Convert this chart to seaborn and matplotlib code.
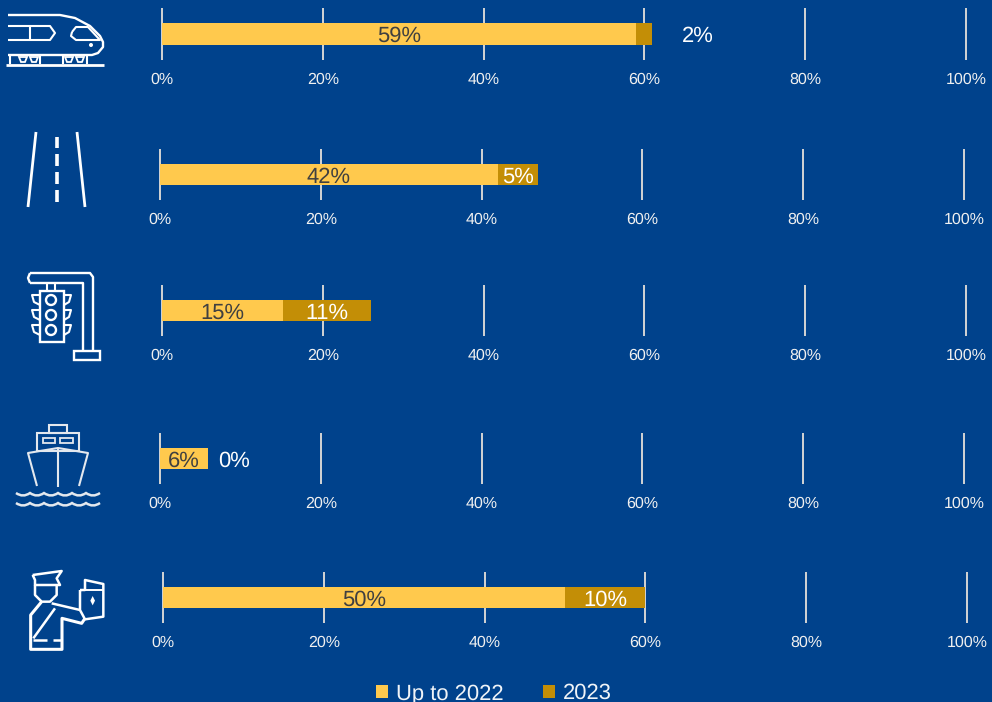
import matplotlib
matplotlib.use("Agg")
import matplotlib.pyplot as plt
from matplotlib.patches import Circle, PathPatch, Polygon, Rectangle
from matplotlib.path import Path
import pandas as pd
import seaborn as sns

# Share of the work done, by transport mode
modes = ["Rail", "Road", "Traffic", "Maritime", "Enforcement"]
up_to_2022 = [59, 42, 15, 6, 50]
in_2023 = [2, 5, 11, 0, 10]
series_names = ["Up to 2022", "2023"]
tick_values = [0, 20, 40, 60, 80, 100]

BG = "#00428C"
GOLD = "#FFC94D"
DARK_GOLD = "#C38E06"
GRID = "#D4D4D4"
TEXT_DARK = "#404040"
WHITE = "#FFFFFF"
FIG_W, FIG_H = 992, 702
PX_PER_UNIT = 8.04
PAD_UNITS = 0.5

# Panel placement in pixels: x of the 0% line, top and bottom of the grid lines
panel_x0 = [162, 160, 162, 160, 163]
panel_top = [8, 149, 285, 433, 572]
panel_bottom = [60, 200, 336, 484, 623]
# Gap between the bar end and a label that sits outside the bar
outside_gap = [29, 0, 0, 10, 0]

sns.set_theme(style="white")
plt.rcParams["font.family"] = ["Liberation Sans", "DejaVu Sans"]
plt.rcParams["text.hinting"] = "no_hinting"
plt.rcParams["text.hinting_factor"] = 1

fig = plt.figure(figsize=(FIG_W / 100, FIG_H / 100), dpi=100, facecolor=BG)


def draw_panel(i):
    x0, top, bottom = panel_x0[i], panel_top[i], panel_bottom[i]
    width = (100 + 2 * PAD_UNITS) * PX_PER_UNIT
    ax = fig.add_axes([
        (x0 - PAD_UNITS * PX_PER_UNIT) / FIG_W,
        1 - bottom / FIG_H,
        width / FIG_W,
        (bottom - top) / FIG_H,
    ])
    ax.set_facecolor("none")
    first, second = up_to_2022[i], in_2023[i]
    frame = pd.DataFrame({"mode": [modes[i]], "first": [first], "total": [first + second]})

    # Stacked look: the total goes underneath, the earlier share on top of it
    sns.barplot(data=frame, x="total", y="mode", color=DARK_GOLD, width=0.404,
                saturation=1, ax=ax, linewidth=0, zorder=2)
    sns.barplot(data=frame, x="first", y="mode", color=GOLD, width=0.404,
                saturation=1, ax=ax, linewidth=0, zorder=3)

    ax.set_xlim(-PAD_UNITS, 100 + PAD_UNITS)
    ax.set_ylim(0.5, -0.5)
    ax.set_xlabel("")
    ax.set_ylabel("")
    ax.set_yticks([])
    ax.set_xticks(tick_values)
    ax.set_xticklabels([f"{v}%" for v in tick_values])
    ax.tick_params(axis="x", length=0, pad=8.6, labelsize=11.2, colors="#F0F0F0")
    ax.set_axisbelow(True)
    ax.grid(axis="x", color=GRID, linewidth=1.4)
    ax.grid(axis="y", visible=False)
    sns.despine(ax=ax, left=True, bottom=True)

    ax.text(first / 2, 0, f"{first}%", ha="center", va="center_baseline",
            fontsize=15.6, color=TEXT_DARK, zorder=5)
    if second >= 3:
        ax.text(first + second / 2, 0, f"{second}%", ha="center", va="center_baseline",
                fontsize=15.6, color=WHITE, zorder=5)
    else:
        ax.annotate(f"{second}%", xy=(first + second, 0), xytext=(outside_gap[i] * 0.72, 0),
                    textcoords="offset points", ha="left", va="center_baseline",
                    fontsize=15.6, color=WHITE, zorder=5)


for index in range(len(modes)):
    draw_panel(index)

# Overlay in pixel coordinates for the mode pictograms
overlay = fig.add_axes([0, 0, 1, 1])
overlay.set_xlim(0, FIG_W)
overlay.set_ylim(FIG_H, 0)
overlay.axis("off")
overlay.patch.set_alpha(0)


def stroke(points, lw=1.5, color=WHITE, closed=False):
    pts = list(points) + ([points[0]] if closed else [])
    xs, ys = zip(*pts)
    overlay.plot(xs, ys, color=color, lw=lw, solid_joinstyle="round",
                 solid_capstyle="butt", clip_on=False)


# Train
stroke([(8, 15), (60, 15), (75, 18), (90, 26), (100, 36), (103, 42), (103, 47), (98, 53), (92, 55), (8, 55)], lw=1.7)
stroke([(8, 26), (50, 26), (55, 33), (50, 40), (8, 40)])
stroke([(30, 26), (30, 40)])
stroke([(72, 32), (76, 27), (88, 27), (100, 40), (76, 40), (71, 36)], closed=True)
overlay.add_patch(Circle((91, 45), 2, color=WHITE, lw=0))
stroke([(6, 65), (104, 65)], lw=2)
for x in (10, 40, 63, 87):
    stroke([(x, 56), (x, 64)])
for x in (23, 34, 69, 80):
    overlay.add_patch(Polygon([(x - 4, 57), (x + 4, 57), (x + 2, 62), (x - 2, 62)],
                              closed=True, fc="none", ec=WHITE, lw=1.3))
# Road
stroke([(36, 132), (28, 207)], lw=2)
stroke([(77, 132), (85, 207)], lw=2)
for y0, y1 in ((137, 148), (154, 166), (172, 184), (190, 202)):
    stroke([(57, y0), (57, y1)], lw=2.6)
# Traffic light
stroke([(30, 273), (90, 273), (93, 277), (93, 350)], lw=1.7)
stroke([(30, 283), (83, 283), (83, 350)], lw=1.7)
stroke([(30, 273), (28, 278), (30, 283)], lw=1.7)
overlay.add_patch(Rectangle((74, 351), 26, 9, fc="none", ec=WHITE, lw=1.7))
overlay.add_patch(Rectangle((40, 291), 24, 51, fc="none", ec=WHITE, lw=1.7))
stroke([(47, 283), (47, 291)])
stroke([(55, 283), (55, 291)])
for y in (300, 315, 330):
    overlay.add_patch(Circle((51, y), 5, fc="none", ec=WHITE, lw=1.7))
    stroke([(40, y - 5), (32, y - 5), (34, y + 2), (40, y + 5)])
    stroke([(64, y - 5), (71, y - 5), (69, y + 2), (64, y + 5)])
# Ship
SHIP = "#E4E8EE"
overlay.add_patch(Rectangle((49, 425), 18, 8, fc="none", ec=SHIP, lw=1.5))
overlay.add_patch(Rectangle((37, 433), 42, 18, fc="none", ec=SHIP, lw=1.5))
overlay.add_patch(Rectangle((43, 438), 12, 5, fc="none", ec=SHIP, lw=1.3))
overlay.add_patch(Rectangle((60, 438), 13, 5, fc="none", ec=SHIP, lw=1.3))
stroke([(37, 486), (28, 453), (58, 448), (88, 453), (79, 486)], color=SHIP)
stroke([(58, 448), (58, 487)], color=SHIP)
for y in (493, 503):
    verts, codes = [(16, y)], [Path.MOVETO]
    for x in range(16, 100, 14):
        verts += [(x + 7, y + 5), (x + 14, y)]
        codes += [Path.CURVE3, Path.CURVE3]
    overlay.add_patch(PathPatch(Path(verts, codes), fc="none", ec=SHIP, lw=1.8))
# Officer
def officer(points):
    return [(x / 3, 560 + y / 3) for x, y in points]


stroke(officer([(98, 45), (185, 33), (170, 55), (180, 75), (105, 75), (105, 60)]), lw=1.8, closed=True)
stroke(officer([(105, 75), (105, 105), (125, 125), (150, 125), (170, 105), (170, 75)]), lw=1.8)
stroke(officer([(125, 125), (92, 165), (92, 268), (186, 268), (186, 175), (245, 190), (255, 175)]), lw=2.2)
stroke(officer([(155, 130), (240, 150)]), lw=1.8)
stroke(officer([(100, 235), (165, 145)]), lw=1.8)
stroke(officer([(240, 90), (255, 90), (255, 60), (310, 72), (310, 170), (255, 178), (240, 150)]), lw=1.8, closed=True)
stroke(officer([(255, 90), (310, 90)]), lw=1.4)
stroke(officer([(100, 240), (140, 240)]), lw=1.8)
stroke(officer([(160, 240), (185, 240)]), lw=1.8)
overlay.add_patch(Polygon(officer([(278, 108), (285, 122), (278, 136), (271, 122)]), closed=True, color=WHITE, lw=0))

# Legend
handles = [Rectangle((0, 0), 1, 1, fc=GOLD, ec="none"), Rectangle((0, 0), 1, 1, fc=DARK_GOLD, ec="none")]
legend = fig.legend(handles, series_names, loc="center", bbox_to_anchor=(494 / FIG_W, 1 - 693.5 / FIG_H),
                    ncol=2, frameon=False, fontsize=15.5, handlelength=0.56, handleheight=0.51,
                    handletextpad=0.36, columnspacing=1.85, borderpad=0, labelcolor="#F0F4F8")

fig.savefig("out.png", dpi=100, facecolor=BG)
